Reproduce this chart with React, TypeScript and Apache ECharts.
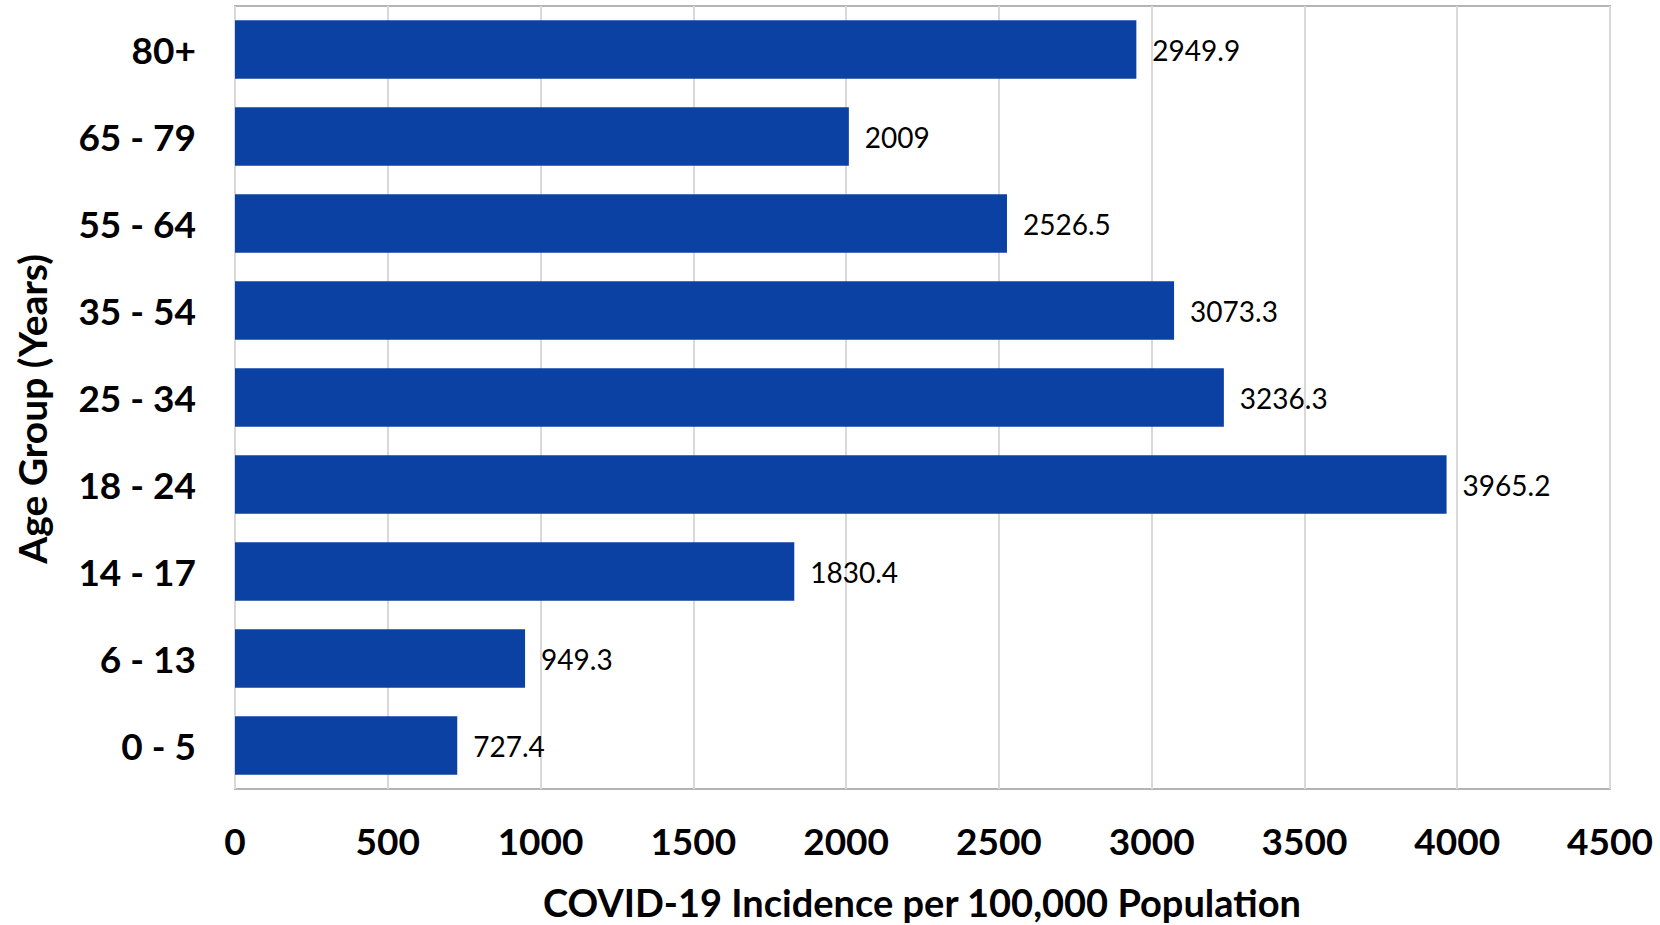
import React, { useEffect, useRef } from "react";
import * as echarts from "echarts";

const categories = ["0 - 5", "6 - 13", "14 - 17", "18 - 24", "25 - 34", "35 - 54", "55 - 64", "65 - 79", "80+"];
const values = [727.4, 949.3, 1830.4, 3965.2, 3236.3, 3073.3, 2526.5, 2009, 2949.9];
const xTitle = "COVID-19 Incidence per 100,000 Population";
const yTitle = "Age Group (Years)";

const FONT = "Lato, 'Open Sans', sans-serif";

export default function App() {
  const ref = useRef<HTMLDivElement>(null);
  useEffect(() => {
    if (!ref.current) return;
    const chart = echarts.init(ref.current, null, { renderer: "svg" });
    chart.setOption({
      animation: false,
      backgroundColor: "#ffffff",
      grid: {
        left: 235,
        right: 50,
        top: 6,
        bottom: 136,
        show: true,
        borderColor: "#b4b4b4",
        borderWidth: 2,
        backgroundColor: "transparent",
      },
      xAxis: {
        type: "value",
        min: 0,
        max: 4500,
        interval: 500,
        axisLine: { show: false },
        axisTick: { show: false },
        splitLine: { show: true, lineStyle: { color: "#d9d9d9", width: 2 } },
        axisLabel: {
          color: "#000",
          fontFamily: FONT,
          fontWeight: "bold",
          fontSize: 37,
          margin: 33,
          formatter: (v: number) => String(v),
        },
      },
      yAxis: {
        type: "category",
        data: categories,
        axisLine: { show: false },
        axisTick: { show: false },
        splitLine: { show: false },
        axisLabel: {
          color: "#000",
          fontFamily: FONT,
          fontWeight: "bold",
          fontSize: 37,
          margin: 39,
        },
      },
      series: [
        {
          type: "bar",
          data: values,
          barCategoryGap: "33%",
          itemStyle: { color: "#0c41a4" },
          label: {
            show: true,
            position: "right",
            distance: 16,
            color: "#000",
            fontFamily: FONT,
            fontSize: 28,
            formatter: (p: any) => String(p.value),
          },
        },
      ],
      graphic: [
        {
          type: "text",
          x: 922,
          y: 902,
          style: {
            text: xTitle,
            fill: "#000",
            font: `bold 38px ${FONT}`,
            textAlign: "center",
            textVerticalAlign: "middle",
          },
        },
        {
          type: "text",
          x: 32,
          y: 409,
          rotation: Math.PI / 2,
          style: {
            text: yTitle,
            fill: "#000",
            font: `bold 39px ${FONT}`,
            textAlign: "center",
            textVerticalAlign: "middle",
          },
        },
      ],
    });
    return () => chart.dispose();
  }, []);
  return (
    <div
      ref={ref}
      style={{ position: "absolute", left: 0, top: 0, width: 1660, height: 925 }}
    />
  );
}
